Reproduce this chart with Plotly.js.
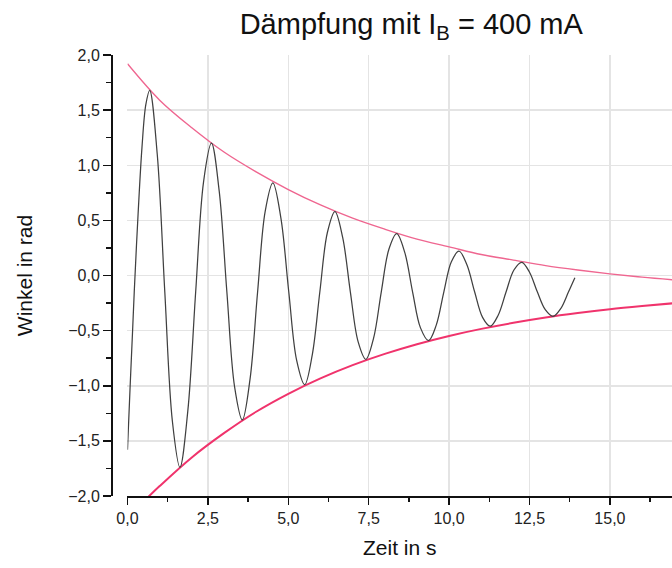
<!DOCTYPE html>
<html>
<head>
<meta charset="utf-8">
<script src="https://cdn.plot.ly/plotly-3.0.1.min.js"></script>
<style>html,body{margin:0;padding:0;background:#fff;}#chart{width:672px;height:568px;}</style>
</head>
<body>
<div id="chart"></div>
<script>
// Measured oscillation (time in s, angle in rad)
const zeit = [0.00, 0.08, 0.16, 0.21, 0.33, 0.45, 0.57, 0.69,
  0.925, 1.16, 1.395, 1.63,
  1.875, 2.12, 2.365, 2.61,
  2.85, 3.09, 3.33, 3.57,
  3.81, 4.045, 4.28, 4.52,
  4.77, 5.015, 5.26, 5.51,
  5.745, 5.98, 6.215, 6.45,
  6.69, 6.93, 7.17, 7.41,
  7.65, 7.89, 8.13, 8.37,
  8.62, 8.865, 9.11, 9.36,
  9.60, 9.835, 10.07, 10.31,
  10.55, 10.795, 11.04, 11.28,
  11.525, 11.77, 12.015, 12.26,
  12.50, 12.745, 12.99, 13.23,
  13.47, 13.71, 13.91];
const winkel = [-1.58, -1.02, -0.49, -0.15, 0.56, 1.16, 1.55, 1.68,
  1.10, -0.15, -1.32, -1.74,
  -1.23, -0.15, 0.85, 1.20,
  0.77, -0.15, -1.01, -1.31,
  -0.94, -0.15, 0.58, 0.84,
  0.52, -0.15, -0.77, -0.99,
  -0.72, -0.15, 0.39, 0.58,
  0.345, -0.15, -0.60, -0.76,
  -0.57, -0.15, 0.24, 0.38,
  0.21, -0.15, -0.475, -0.59,
  -0.45, -0.15, 0.125, 0.22,
  0.10, -0.15, -0.38, -0.46,
  -0.36, -0.15, 0.05, 0.12,
  0.03, -0.15, -0.31, -0.37,
  -0.30, -0.15, -0.02];

// Upper envelope
const zeitOben = [0,1,2,3,4,5,6,7,8,9,10,11,12,13,14,15,16,17];
const oben = [1.92,1.59,1.34,1.12,0.94,0.78,0.64,0.52,0.42,0.33,0.26,0.19,0.14,0.09,0.05,0.015,-0.015,-0.04];

// Lower envelope
const zeitUnten = [0.5,1,2,3,4,5,6,7,8,9,10,11,12,13,14,15,16,17];
const unten = [-2.05,-1.91,-1.65,-1.43,-1.236,-1.073,-0.933,-0.813,-0.711,-0.623,-0.548,-0.484,-0.429,-0.381,-0.341,-0.306,-0.277,-0.251];

const titleText = 'Dämpfung mit I<sub>B</sub> = 400 mA';
const xTitle = 'Zeit in s';
const yTitle = 'Winkel in rad';

const font = 'Liberation Sans, Arial, sans-serif';

const traces = [
  {x: zeitOben, y: oben, mode: 'lines', line: {color: '#ef6690', width: 1.4, shape: 'spline'}, hoverinfo: 'skip'},
  {x: zeitUnten, y: unten, mode: 'lines', line: {color: '#f0336c', width: 2, shape: 'spline'}, hoverinfo: 'skip'},
  {x: zeit, y: winkel, mode: 'lines', line: {color: '#404040', width: 1.25, shape: 'spline', smoothing: 1}}
];

const layout = {
  width: 672, height: 568,
  paper_bgcolor: '#ffffff', plot_bgcolor: '#ffffff',
  showlegend: false,
  separators: ',.',
  margin: {l: 111, r: 0, t: 55, b: 72, pad: 0},
  font: {family: font, color: '#111', size: 16},
  title: {text: titleText, font: {family: font, size: 29, color: '#111'},
    xref: 'container', x: 0.612, xanchor: 'center', yref: 'container', y: 0.958, yanchor: 'middle'},
  xaxis: {
    domain: [0.0294, 1], range: [0, 16.93], tick0: 0, dtick: 2.5, tickformat: '.1f',
    showline: true, linecolor: '#111', linewidth: 1.5, zeroline: false,
    ticks: 'outside', ticklen: 7, tickwidth: 1.5, tickcolor: '#111',
    tickfont: {size: 16, color: '#222'},
    showgrid: true, gridcolor: '#e4e4e4', gridwidth: 1.5,
    minor: {dtick: 1.25, ticks: 'outside', ticklen: 4, tickwidth: 1.5, tickcolor: '#111', showgrid: false},
    title: {text: xTitle, font: {size: 21, color: '#111'}, standoff: 14}
  },
  yaxis: {
    anchor: 'free', position: 0, range: [-2, 2], tick0: 0, dtick: 0.5, tickformat: '.1f',
    showline: true, linecolor: '#111', linewidth: 1.5, zeroline: false,
    ticks: 'outside', ticklen: 8, tickwidth: 1.5, tickcolor: '#111',
    tickfont: {size: 16, color: '#222'},
    showgrid: true, gridcolor: '#e4e4e4', gridwidth: 1.5,
    minor: {dtick: 0.25, ticks: 'outside', ticklen: 5, tickwidth: 1.5, tickcolor: '#111', showgrid: false},
    title: {text: yTitle, font: {size: 21, color: '#111'}, standoff: 28}
  }
};

Plotly.newPlot('chart', traces, layout, {staticPlot: true, displayModeBar: false});
</script>
</body>
</html>
